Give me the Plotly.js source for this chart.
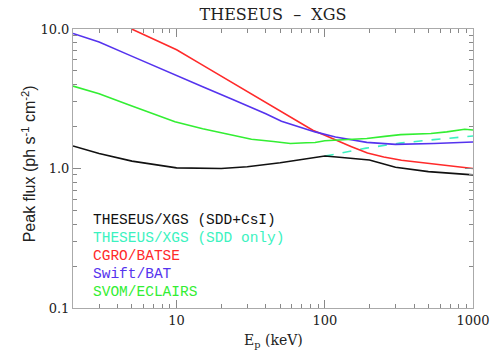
<!DOCTYPE html>
<html>
<head>
<meta charset="utf-8">
<script src="https://cdn.plot.ly/plotly-3.0.1.min.js"></script>
<style>html,body{margin:0;padding:0;background:#fff;}#chart{width:500px;height:356px;}</style>
</head>
<body>
<div id="chart"></div>
<script>
// ---- data ----
const xgsFullX = [2, 3, 5, 10, 20, 30, 50, 70, 100, 120, 200, 300, 500, 1000];
const xgsFullY = [1.45, 1.28, 1.13, 1.01, 1.0, 1.03, 1.10, 1.16, 1.23, 1.21, 1.15, 1.02, 0.95, 0.90];

const xgsSddX = [100, 120, 190, 320, 545, 1000];
const xgsSddY = [1.23, 1.27, 1.40, 1.52, 1.61, 1.71];

const batseX = [4.97, 7, 10, 14.4, 24, 31, 40, 52, 68, 83, 100, 120, 150, 194, 250, 329, 480, 700, 1000];
const batseY = [10, 8.45, 7.1, 5.65, 4.1, 3.5, 2.99, 2.54, 2.16, 1.88, 1.73, 1.59, 1.44, 1.29, 1.21, 1.146, 1.09, 1.04, 1.0];

const batX = [2, 3, 4.84, 9.75, 15, 23.5, 30.6, 40, 51, 86, 118, 192, 300, 545, 1000];
const batY = [9.3, 8.07, 6.47, 4.66, 3.85, 3.15, 2.80, 2.47, 2.18, 1.83, 1.68, 1.54, 1.49, 1.51, 1.55];

const eclairsX = [2, 3, 4.84, 9.75, 15, 23.5, 32, 45, 58.6, 75, 86, 100, 115, 192, 254, 325, 520, 612, 665, 880, 1000];
const eclairsY = [3.9, 3.44, 2.84, 2.16, 1.93, 1.73, 1.62, 1.56, 1.51, 1.53, 1.535, 1.58, 1.59, 1.64, 1.70, 1.75, 1.78, 1.80, 1.83, 1.91, 1.89];

const seriesNames = ["THESEUS/XGS (SDD+CsI)", "THESEUS/XGS (SDD only)", "CGRO/BATSE", "Swift/BAT", "SVOM/ECLAIRS"];
const seriesColors = ["#111111", "#3cf2c0", "#ff2a2a", "#5533ee", "#33ee33"];

const xTickVals = [10, 100, 1000];
const xTickText = ["10", "100", "1000"];
const yTickVals = [0.1, 1, 10];
const yTickText = ["0.1", "1.0", "10.0"];
const xMinorVals = [3,4,5,6,7,8,9,20,30,40,50,60,70,80,90,200,300,400,500,600,700,800,900];
const yMinorVals = [0.2,0.3,0.4,0.5,0.6,0.7,0.8,0.9,2,3,4,5,6,7,8,9];

// ---- traces ----
const xs = [xgsFullX, xgsSddX, batseX, batX, eclairsX];
const ys = [xgsFullY, xgsSddY, batseY, batY, eclairsY];
const traces = xs.map((x, i) => ({
  x: x, y: ys[i], type: "scatter", mode: "lines", name: seriesNames[i],
  line: {color: seriesColors[i], width: 1.6, dash: i === 1 ? "dash" : "solid"},
  showlegend: false, hoverinfo: "skip"
}));
const ordered = [traces[1], traces[2], traces[3], traces[4], traces[0]];

const legendY = [220, 238, 256, 274, 292];
const plotTop = 29, plotBottom = 308, plotH = plotBottom - plotTop;

const annotations = seriesNames.map((n, i) => ({
  text: n, xref: "paper", yref: "paper", x: 18 / 400, y: (plotBottom - legendY[i]) / plotH,
  xanchor: "left", yanchor: "middle", showarrow: false,
  font: {family: "Liberation Mono, DejaVu Sans Mono, monospace", size: 14.5, color: seriesColors[i]}
}));
annotations.push({
  text: "Peak flux (ph s<sup>-1</sup> cm<sup>-2</sup>)", textangle: -90,
  xref: "paper", yref: "paper", x: (29 - 73) / 400, y: 0.515, xanchor: "center", yanchor: "middle",
  showarrow: false, font: {family: "Liberation Sans, Arial, sans-serif", size: 16, color: "#222"}
});
annotations.push({
  text: "E<sub>p</sub> (keV)", xref: "paper", yref: "paper", x: 0.5, y: (plotBottom - 341) / plotH,
  xanchor: "center", yanchor: "middle", showarrow: false,
  font: {family: "DejaVu Serif, serif", size: 14, color: "#222"}
});

const axisCommon = {
  type: "log", showgrid: false, zeroline: false,
  showline: true, linecolor: "#aaa", linewidth: 1, mirror: "ticks",
  ticks: "inside", ticklen: 8, tickcolor: "#888", tickwidth: 1,
  tickfont: {family: "DejaVu Serif, serif", size: 13, color: "#222"}
};

const layout = {
  width: 500, height: 356,
  margin: {l: 73, r: 27, t: 29, b: 48},
  paper_bgcolor: "#fff", plot_bgcolor: "#fff",
  title: {text: "THESEUS  \u2013  XGS", x: 0.5, xref: "paper", xanchor: "center",
          y: 1 - 14 / 356, yref: "container", yanchor: "middle",
          font: {family: "DejaVu Serif, serif", size: 16, color: "#222"}},
  xaxis: Object.assign({}, axisCommon, {
    range: [Math.log10(2), 3], tickvals: xTickVals, ticktext: xTickText,
    minor: {tickvals: xMinorVals, ticks: "inside", ticklen: 4, tickcolor: "#888", tickwidth: 1}
  }),
  yaxis: Object.assign({}, axisCommon, {
    range: [-1, 1], tickvals: yTickVals, ticktext: yTickText,
    minor: {tickvals: yMinorVals, ticks: "inside", ticklen: 4, tickcolor: "#888", tickwidth: 1}
  }),
  annotations: annotations,
  showlegend: false
};

Plotly.newPlot("chart", ordered, layout, {displayModeBar: false, staticPlot: true});
</script>
</body>
</html>
